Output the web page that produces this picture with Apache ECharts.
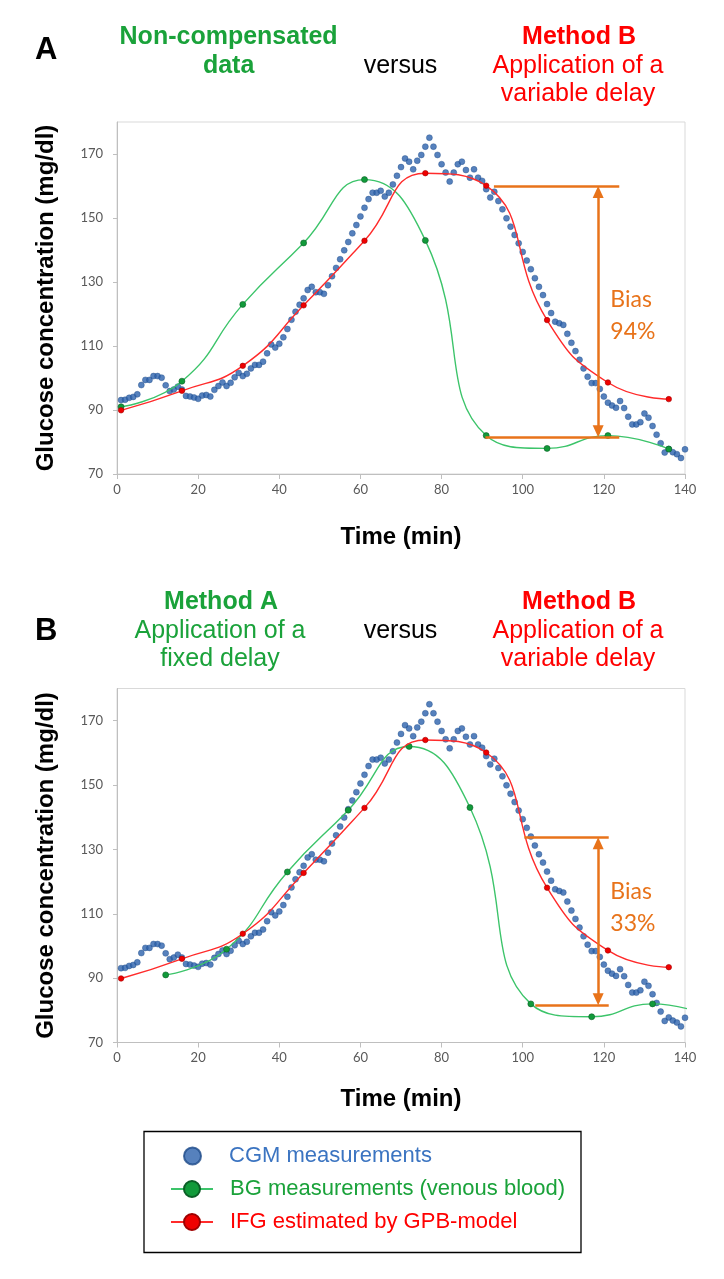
<!DOCTYPE html>
<html><head><meta charset="utf-8">
<script src="https://cdn.jsdelivr.net/npm/echarts@6/dist/echarts.min.js"></script>
<style>html,body{margin:0;padding:0;background:#fff}#c{width:724px;height:1279px}</style>
</head><body><div id="c"></div>
<script>
// ---- data ----
const cgmTime = [1,2,3,4,5,6,7,8,9,10,11,12,13,14,15,16,17,18,19,20,21,22,23,24,25,26,27,28,29,30,
31,32,33,34,35,36,37,38,39,40,41,42,43,44,45,46,47,48,49,50,51,52,53,54,55,56,57,58,59,60,
61,62,63,64,65,66,67,68,69,70,71,72,73,74,75,76,77,78,79,80,81,82,83,84,85,86,87,88,89,90,
91,92,93,94,95,96,97,98,99,100,101,102,103,104,105,106,107,108,109,110,111,112,113,114,115,116,117,118,119,120,
121,122,123,124,125,126,127,128,129,130,131,132,133,134,135,136,137,138,139,140];
const cgmValues = [93.1,93.2,93.8,94.1,94.9,97.8,99.4,99.4,100.6,100.6,100.1,97.7,95.9,96.4,97.3,96.4,94.4,94.2,93.9,93.5,
94.5,94.7,94.2,96.3,97.5,98.6,97.5,98.5,100.2,101.6,100.6,101.3,103.0,104.1,104.1,105.1,107.7,110.5,109.5,110.7,
112.7,115.3,118.2,120.7,122.9,124.9,127.5,128.5,126.8,126.8,126.3,129.0,131.8,134.4,137.1,139.9,142.5,145.2,147.8,150.5,
153.2,155.9,157.9,157.9,158.5,156.7,157.9,160.5,163.2,165.9,168.6,167.6,165.2,167.9,169.7,172.3,175.1,172.3,169.7,166.8,
164.2,161.4,164.2,166.8,167.6,165.0,162.6,165.2,162.6,161.6,159.0,156.4,158.2,155.3,152.7,149.9,147.3,144.7,142.1,139.4,
136.7,134.0,131.2,128.5,125.9,123.1,120.3,117.6,117.1,116.6,113.8,111.0,108.4,105.7,103.0,100.4,98.4,98.4,96.6,94.2,
92.3,91.4,90.7,92.8,90.6,87.9,85.5,85.5,86.2,88.9,87.6,85.0,82.3,79.6,76.7,77.8,76.8,76.2,75.0,77.7];
const bgTimeA = [1,16,31,46,61,76,91,106,121,136];
const bgTimeB = [12,27,42,57,72,87,102,117,132,147];
const bgValues = [91,99,123,142.2,162,143,82,78,82,77.8];
const ifgTime = [1,16,31,46,61,76,91,106,121,136];
const ifgValues = [89.9,96,103.8,122.7,142.9,164,160.1,118.1,98.6,93.4];
const xTicks = [0,20,40,60,80,100,120,140];
const yTicks = [70,90,110,130,150,170];
// bias annotations: [x of arrow, top value, bottom value, top line from, bottom line from, lines end]
const biasA = [118.6, 160, 81.5, 92.9, 90.8, 123.8];
const biasB = [118.6, 133.8, 81.6, 100.4, 103.1, 121.2];
const biasTextA = ['Bias', '94%'];
const biasTextB = ['Bias', '33%'];
const biasTextPosA = [121.6, 119.4];
const biasTextPosB = [121.6, 111.9];

const pair = (xs, ys) => xs.map((x, i) => [x, ys[i]]);
const ORANGE = '#E8731A';
const GREEN_L = '#3CC46A', GREEN_M = '#119A3A', RED = '#FF2B2B', BLUE = '#2C62AD';

function biasMarks(b, txt, pos) {
  const arrowHalf = 6 / 3.2;
  return {
    markLine: {
      silent: true, animation: false, symbol: 'none',
      lineStyle: { color: ORANGE, width: 2.5, type: 'solid' },
      label: { show: false }, emphasis: { disabled: true },
      data: [
        [{ coord: [b[3], b[1]] }, { coord: [b[5], b[1]] }],
        [{ coord: [b[4], b[2]] }, { coord: [b[5], b[2]] }],
        [{ coord: [b[0], b[1] - arrowHalf], symbol: 'triangle', symbolSize: [11, 12] },
         { coord: [b[0], b[2] + arrowHalf], symbol: 'triangle', symbolSize: [11, 12] }]
      ]
    },
    markPoint: {
      silent: true, animation: false,
      data: [{ coord: pos, symbol: 'circle', symbolSize: 0,
        label: { show: true, position: 'right', distance: 0, formatter: txt.join('\n'),
          color: ORANGE, fontSize: 23, fontFamily: 'Lato', lineHeight: 32, align: 'left' } }]
    }
  };
}

function gridAxes(idx, top, height, nameGapX) {
  return {
    grid: { left: 117, top: top, width: 568, height: height, show: true, borderColor: '#d9d9d9', borderWidth: 1, containLabel: false },
    x: { type: 'value', gridIndex: idx, min: xTicks[0], max: xTicks[xTicks.length - 1], interval: 20,
      name: 'Time (min)', nameLocation: 'middle', nameGap: nameGapX,
      nameTextStyle: { fontSize: 24, fontWeight: 'bold', color: '#000', fontFamily: 'Liberation Sans' },
      axisLine: { show: true, lineStyle: { color: '#bfbfbf', width: 1 } },
      axisTick: { show: true, length: 5, lineStyle: { color: '#bfbfbf' } },
      axisLabel: { color: '#595959', fontSize: 13, fontFamily: 'Lato', margin: 9 },
      splitLine: { show: false } },
    y: { type: 'value', gridIndex: idx, min: yTicks[0], max: 180, interval: 20,
      name: 'Glucose concentration (mg/dl)', nameLocation: 'middle', nameGap: 59,
      nameTextStyle: { fontSize: 24, fontWeight: 'bold', color: '#000', fontFamily: 'Liberation Sans' },
      axisLine: { show: true, lineStyle: { color: '#bfbfbf', width: 1 } },
      axisTick: { show: true, length: 4, lineStyle: { color: '#bfbfbf' } },
      axisLabel: { color: '#595959', fontSize: 13, fontFamily: 'Lato', margin: 14, showMaxLabel: false },
      splitLine: { show: false } }
  };
}
const gA = gridAxes(0, 122, 352, 51);
const gB = gridAxes(1, 688.5, 354, 45);

function cgmSeries(idx, bias, txt, pos) {
  return Object.assign({
    name: 'CGM measurements', type: 'scatter', xAxisIndex: idx, yAxisIndex: idx,
    data: pair(cgmTime, cgmValues), symbol: 'circle', symbolSize: 6,
    itemStyle: { color: BLUE, borderColor: '#1d4a88', borderWidth: 0.5 }, z: 2
  }, biasMarks(bias, txt, pos));
}
function bgSeries(idx, times) {
  return { name: 'BG measurements (venous blood)', type: 'line', xAxisIndex: idx, yAxisIndex: idx,
    data: pair(times, bgValues), smooth: 0.5, symbol: 'circle', symbolSize: 6, showSymbol: true, clip: true,
    lineStyle: { color: GREEN_L, width: 1.4 },
    itemStyle: { color: GREEN_M, borderColor: '#0b5e26', borderWidth: 0.6 }, z: 3 };
}
function ifgSeries(idx) {
  return { name: 'IFG estimated by GPB-model', type: 'line', xAxisIndex: idx, yAxisIndex: idx,
    data: pair(ifgTime, ifgValues), smooth: 0.5, symbol: 'circle', symbolSize: 5.5, showSymbol: true,
    lineStyle: { color: RED, width: 1.4 },
    itemStyle: { color: '#F00000', borderColor: '#a00000', borderWidth: 0.6 }, z: 4 };
}

const headFont = (w, s) => `${w} ${s}px "Liberation Sans", Arial, sans-serif`;
function head(text, x, y, color, bold) {
  return { type: 'text', x: x, y: y, silent: true,
    style: { text: text, fill: color, font: headFont(bold ? 'bold' : 'normal', 25),
      align: 'center', verticalAlign: 'middle', textAlign: 'center', textVerticalAlign: 'middle' } };
}
const HG = '#1AA23A', HR = '#FF0000';
const legendText = { fontSize: 22, fontFamily: 'Liberation Sans', lineHeight: 24 };

const option = {
  animation: false,
  backgroundColor: '#fff',
  grid: [gA.grid, gB.grid],
  xAxis: [gA.x, gB.x],
  yAxis: [gA.y, gB.y],
  legend: [
    { orient: 'vertical', left: 183, top: 1144, padding: 0, itemWidth: 41, itemHeight: 17, itemGap: 9, selectedMode: false,
      data: [{ name: 'CGM measurements', textStyle: { color: '#3B74C1' } }],
      textStyle: Object.assign({ padding: [0, 0, 0, 11] }, legendText) },
    { orient: 'vertical', left: 170, top: 1177, padding: 0, itemWidth: 42, itemHeight: 20, itemGap: 9, selectedMode: false,
      lineStyle: { width: 2 },
      data: [{ name: 'BG measurements (venous blood)', textStyle: { color: '#1AA23A' } },
             { name: 'IFG estimated by GPB-model', textStyle: { color: '#FF0000' } }],
      textStyle: Object.assign({ padding: [0, 0, 0, 12] }, legendText) }
  ],
  graphic: [
    { type: 'text', x: 35, y: 50, silent: true, style: { text: 'A', fill: '#000', font: headFont('bold', 31), verticalAlign: 'middle', textVerticalAlign: 'middle' } },
    head('Non-compensated', 228.6, 37.3, HG, true),
    head('data', 228.6, 66.3, HG, true),
    head('versus', 400.5, 66.3, '#000', false),
    head('Method B', 579, 37.3, HR, true),
    head('Application of a', 578, 66.3, HR, false),
    head('variable delay', 578, 94.6, HR, false),
    { type: 'text', x: 35, y: 631, silent: true, style: { text: 'B', fill: '#000', font: headFont('bold', 31), verticalAlign: 'middle', textVerticalAlign: 'middle' } },
    head('Method A', 221, 602.3, HG, true),
    head('Application of a', 220, 631.3, HG, false),
    head('fixed delay', 220, 659.3, HG, false),
    head('versus', 400.5, 631.3, '#000', false),
    head('Method B', 579, 602.3, HR, true),
    head('Application of a', 578, 631.3, HR, false),
    head('variable delay', 578, 659.3, HR, false),
    { type: 'rect', silent: true, shape: { x: 144, y: 1131.5, width: 437, height: 121 },
      style: { fill: 'none', stroke: '#000', lineWidth: 1.3 } }
  ],
  series: [
    cgmSeries(0, biasA, biasTextA, biasTextPosA),
    bgSeries(0, bgTimeA),
    ifgSeries(0),
    cgmSeries(1, biasB, biasTextB, biasTextPosB),
    bgSeries(1, bgTimeB),
    ifgSeries(1)
  ]
};
const chart = echarts.init(document.getElementById('c'), null, { renderer: 'canvas' });
chart.setOption(option);
</script></body></html>
